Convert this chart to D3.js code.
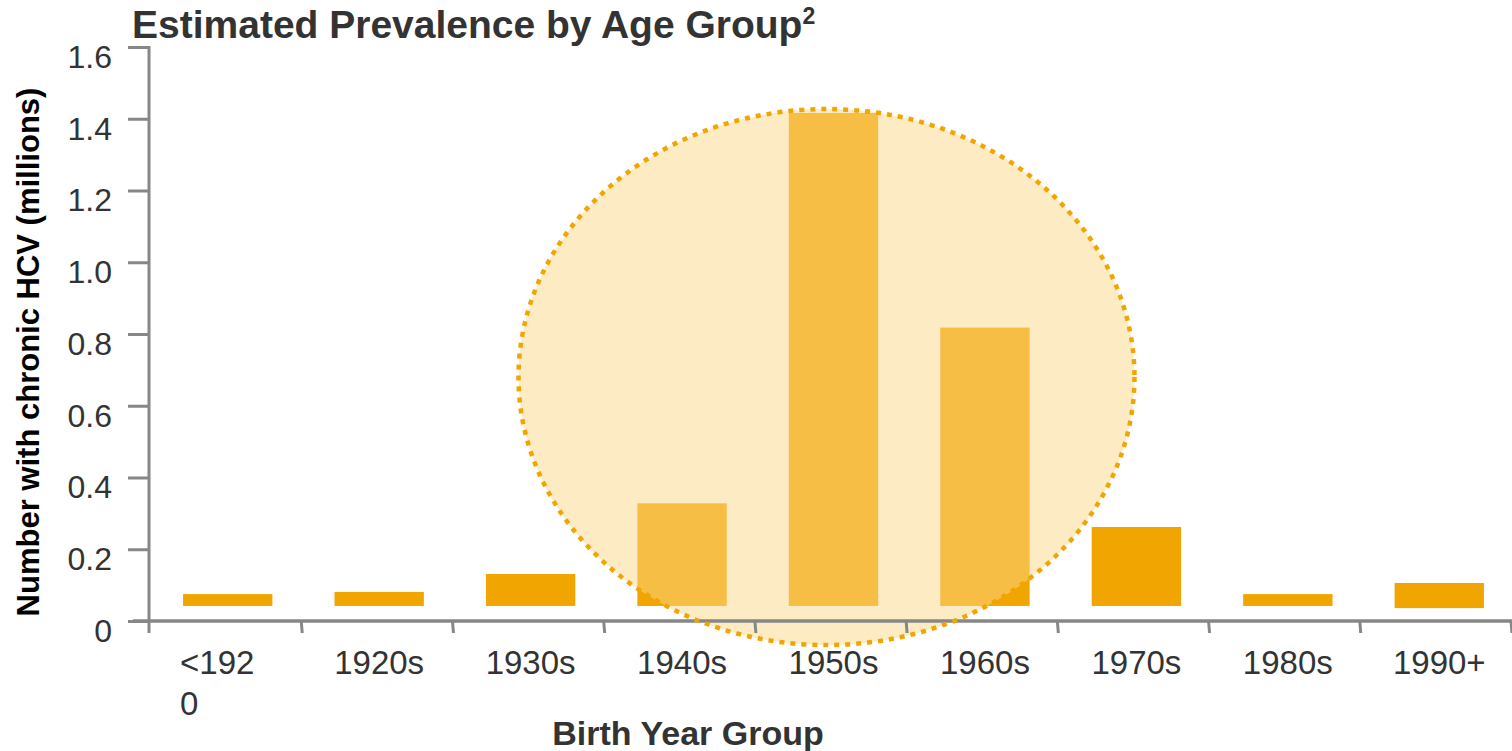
<!DOCTYPE html>
<html>
<head>
<meta charset="utf-8">
<script src="https://cdn.jsdelivr.net/npm/d3@7"></script>
<style>
  body { margin: 0; background: #fff; }
  text { font-family: "Liberation Sans", Arial, sans-serif; }
</style>
</head>
<body>
<div id="chart"></div>
<script>
// data (millions)
const birthGroups = ["<1920", "1920s", "1930s", "1940s", "1950s", "1960s", "1970s", "1980s", "1990+"];
const barTops = [0.075, 0.081, 0.131, 0.328, 1.416, 0.818, 0.262, 0.075, 0.106];
const barBottoms = [0.042, 0.042, 0.042, 0.042, 0.042, 0.042, 0.042, 0.042, 0.036];
const tickLabelLines = [["<192", "0"], ["1920s"], ["1930s"], ["1940s"], ["1950s"], ["1960s"], ["1970s"], ["1980s"], ["1990+"]];
const yTicks = [0, 0.2, 0.4, 0.6, 0.8, 1.0, 1.2, 1.4, 1.6];
// highlighted cohorts (circle spans 1940s..1960s, centred on 1950s)
const circleCentre = {group: "1950s", value: 0.68};

const width = 1512, height = 751;
const axisGray = "#878787", barColor = "#F0A500";

const svg = d3.select("#chart").append("svg")
    .attr("width", width)
    .attr("height", height);

// bars
const x = d3.scaleBand()
  .domain(birthGroups)
  .range([152, 1515])
  .paddingInner(0.41)
  .paddingOuter(0.205);

// category boundaries for the tick marks
const xTicks = d3.scaleBand()
  .domain(birthGroups)
  .range([150, 1511]);

const y = d3.scaleLinear()
  .domain([0, 1.6])
  .range([621, 47]);

const rows = birthGroups.map((g, i) => ({group: g, top: barTops[i], bottom: barBottoms[i]}));

svg.append("g").selectAll("rect")
  .data(rows)
  .join("rect")
    .attr("x", d => x(d.group))
    .attr("y", d => y(d.top))
    .attr("width", x.bandwidth())
    .attr("height", d => y(d.bottom) - y(d.top))
    .attr("fill", barColor);

// highlight circle (fill)
const cx = x(circleCentre.group) + x.bandwidth() / 2 - 7;
const cy = y(circleCentre.value);
const rx = 308, ry = 268;
svg.append("ellipse")
  .attr("cx", cx).attr("cy", cy).attr("rx", rx).attr("ry", ry)
  .attr("fill", "#FBD789")
  .attr("fill-opacity", 0.5);

// y axis
const yAxis = svg.append("g")
  .attr("transform", "translate(149,0)")
  .call(d3.axisLeft(y).tickValues(yTicks).tickSize(21).tickPadding(16)
    .tickFormat(d => d === 0 ? "0" : d3.format(".1f")(d)));
yAxis.select(".domain").remove();
yAxis.selectAll(".tick line").attr("stroke", axisGray).attr("stroke-width", 3);
yAxis.selectAll("text")
  .attr("dy", "0.64em")
  .style("font-size", "32px")
  .style("fill", "#333");

svg.append("line")
  .attr("x1", 149).attr("x2", 149)
  .attr("y1", y(1.6) - 1).attr("y2", y(0) + 12)
  .attr("stroke", axisGray).attr("stroke-width", 3);

// x axis
svg.append("line")
  .attr("x1", 133).attr("x2", width)
  .attr("y1", y(0)).attr("y2", y(0))
  .attr("stroke", axisGray).attr("stroke-width", 3.5);

svg.append("g").selectAll("line")
  .data(birthGroups.slice(1).map(d => xTicks(d)).concat([1511]))
  .join("line")
    .attr("x1", d => d).attr("x2", d => d + 1)
    .attr("y1", y(0)).attr("y2", y(0) + 12)
    .attr("stroke", axisGray).attr("stroke-width", 3);

const xLabels = svg.append("g").selectAll("text")
  .data(rows)
  .join("text")
    .attr("text-anchor", (d, i) => tickLabelLines[i].length > 1 ? "start" : "middle")
    .attr("x", (d, i) => tickLabelLines[i].length > 1 ? x(d.group) - 3 : x(d.group) + x.bandwidth() / 2)
    .attr("y", 674)
    .style("font-size", "33px")
    .style("fill", "#333");
xLabels.each(function(d, i) {
  const t = d3.select(this);
  const xx = t.attr("x");
  tickLabelLines[i].forEach((line, j) => {
    t.append("tspan").attr("x", xx).attr("dy", j === 0 ? 0 : 41).text(line);
  });
});

// dotted outline on top
svg.append("ellipse")
  .attr("cx", cx).attr("cy", cy).attr("rx", rx).attr("ry", ry)
  .attr("fill", "none")
  .attr("stroke", barColor)
  .attr("stroke-width", 4.5)
  .attr("stroke-dasharray", "5,6");

// titles
svg.append("text")
  .attr("x", 132)
  .attr("y", 38)
  .style("font-size", "39px")
  .style("font-weight", "bold")
  .style("fill", "#333")
  .text("Estimated Prevalence by Age Group")
  .append("tspan")
    .attr("dy", -14)
    .style("font-size", "23px")
    .text("2");

svg.append("text")
  .attr("x", 688)
  .attr("y", 745)
  .attr("text-anchor", "middle")
  .style("font-size", "34px")
  .style("font-weight", "bold")
  .style("fill", "#333")
  .text("Birth Year Group");

svg.append("text")
  .attr("transform", "translate(39,352) rotate(-90)")
  .attr("text-anchor", "middle")
  .style("font-size", "31px")
  .style("font-weight", "bold")
  .style("fill", "#000")
  .text("Number with chronic HCV (millions)");
</script>
</body>
</html>
